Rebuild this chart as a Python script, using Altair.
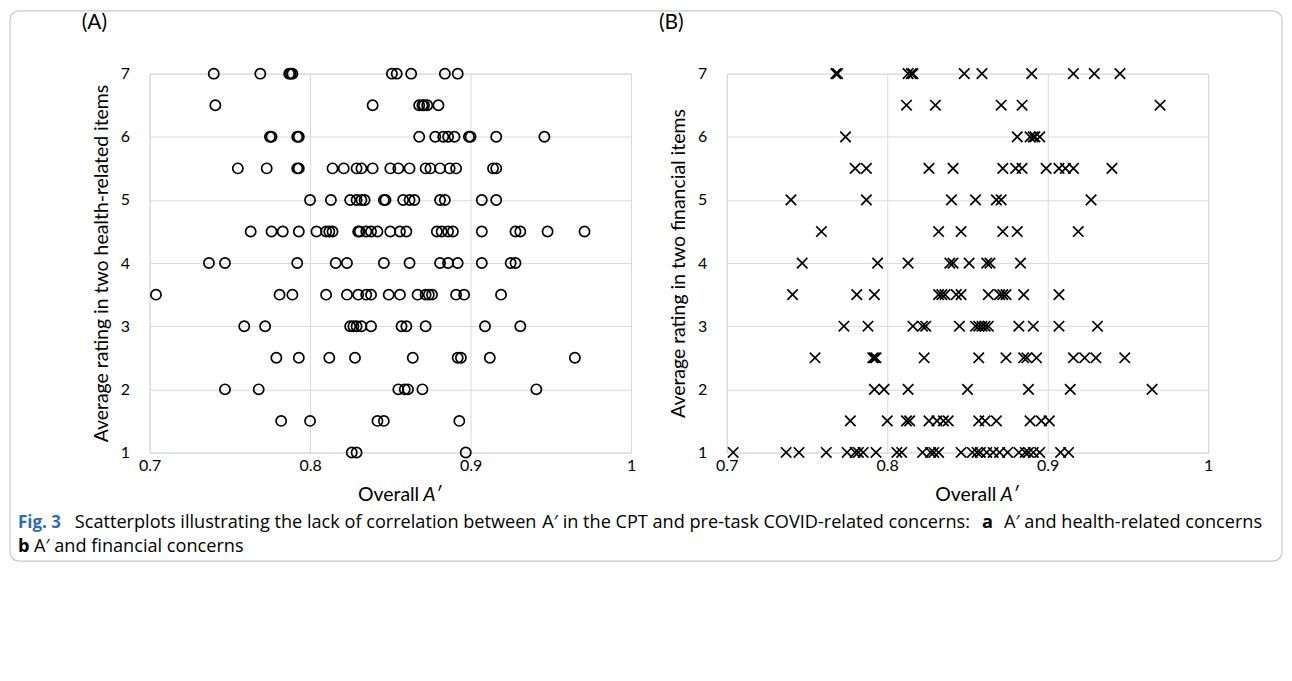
import altair as alt
import pandas as pd

# ---------------- data: panel A (health-related), x values per rating row ----------------
A_7 = [0.740, 0.769, 0.787, 0.788, 0.789, 0.851, 0.854, 0.863, 0.884, 0.892]
A_65 = [0.741, 0.839, 0.868, 0.870, 0.871, 0.873, 0.880]
A_6 = [0.775, 0.776, 0.792, 0.793, 0.868, 0.878, 0.883, 0.886, 0.890, 0.899, 0.900, 0.916, 0.946]
A_55 = [0.755, 0.773, 0.792, 0.793, 0.814, 0.821, 0.829, 0.832, 0.839, 0.850, 0.855, 0.862,
        0.872, 0.875, 0.881, 0.887, 0.891, 0.914, 0.916]
A_5 = [0.800, 0.813, 0.825, 0.829, 0.832, 0.834, 0.846, 0.847, 0.858, 0.862, 0.865, 0.881,
       0.884, 0.907, 0.916]
A_45 = [0.763, 0.776, 0.783, 0.793, 0.804, 0.810, 0.812, 0.814, 0.830, 0.831, 0.835, 0.838,
        0.842, 0.850, 0.856, 0.860, 0.879, 0.882, 0.886, 0.889, 0.907, 0.928, 0.931, 0.948, 0.971]
A_4 = [0.737, 0.747, 0.792, 0.816, 0.823, 0.846, 0.862, 0.881, 0.886, 0.892, 0.907, 0.925, 0.928]
A_35 = [0.704, 0.781, 0.789, 0.810, 0.823, 0.830, 0.835, 0.838, 0.849, 0.856, 0.867, 0.872,
        0.874, 0.876, 0.891, 0.896, 0.919]
A_3 = [0.759, 0.772, 0.825, 0.827, 0.829, 0.832, 0.838, 0.857, 0.860, 0.872, 0.909, 0.931]
A_25 = [0.779, 0.793, 0.812, 0.828, 0.864, 0.892, 0.894, 0.912, 0.965]
A_2 = [0.747, 0.768, 0.855, 0.859, 0.861, 0.870, 0.941]
A_15 = [0.782, 0.800, 0.842, 0.846, 0.893]
A_1 = [0.826, 0.829, 0.897]

# ---------------- data: panel B (financial) ----------------
B_7 = [0.768, 0.769, 0.813, 0.815, 0.816, 0.848, 0.859, 0.890, 0.916, 0.929, 0.945]
B_65 = [0.812, 0.830, 0.871, 0.884, 0.970]
B_6 = [0.774, 0.881, 0.889, 0.891, 0.892, 0.895]
B_55 = [0.780, 0.787, 0.826, 0.841, 0.872, 0.880, 0.884, 0.899, 0.907, 0.911, 0.916, 0.940]
B_5 = [0.740, 0.787, 0.840, 0.855, 0.868, 0.871, 0.927]
B_45 = [0.759, 0.832, 0.846, 0.872, 0.881, 0.919]
B_4 = [0.747, 0.794, 0.813, 0.839, 0.841, 0.851, 0.862, 0.864, 0.883]
B_35 = [0.741, 0.781, 0.792, 0.832, 0.834, 0.836, 0.843, 0.846, 0.863, 0.870, 0.872, 0.874,
        0.885, 0.907]
B_3 = [0.773, 0.788, 0.816, 0.822, 0.824, 0.845, 0.855, 0.857, 0.859, 0.861, 0.863, 0.882,
       0.891, 0.907, 0.931]
B_25 = [0.755, 0.791, 0.792, 0.793, 0.823, 0.857, 0.874, 0.885, 0.887, 0.893, 0.916, 0.923,
        0.930, 0.948]
B_2 = [0.792, 0.798, 0.813, 0.850, 0.888, 0.914, 0.965]
B_15 = [0.777, 0.800, 0.812, 0.814, 0.826, 0.831, 0.835, 0.838, 0.857, 0.861, 0.868, 0.889,
        0.896, 0.901]
B_1 = [0.704, 0.737, 0.745, 0.762, 0.775, 0.780, 0.782, 0.785, 0.793, 0.806, 0.809, 0.822,
       0.827, 0.829, 0.832, 0.846, 0.853, 0.856, 0.858, 0.862, 0.866, 0.870, 0.875, 0.882,
       0.886, 0.888, 0.891, 0.895, 0.908, 0.913]

RATINGS = [7, 6.5, 6, 5.5, 5, 4.5, 4, 3.5, 3, 2.5, 2, 1.5, 1]
A_ROWS = [A_7, A_65, A_6, A_55, A_5, A_45, A_4, A_35, A_3, A_25, A_2, A_15, A_1]
B_ROWS = [B_7, B_65, B_6, B_55, B_5, B_45, B_4, B_35, B_3, B_25, B_2, B_15, B_1]

X_TICKS = [0.7, 0.8, 0.9, 1.0]
Y_TICKS = [1, 2, 3, 4, 5, 6, 7]
PANEL_LABELS = ["(A)", "(B)"]
Y_TITLES = ["Average rating in two health-related items", "Average rating in two financial items"]
X_TITLE_WORD = "Overall"
X_TITLE_SYMBOL = "A\u2032"
CAPTION_FIG = "Fig. 3"
CAPTION_1A = "Scatterplots illustrating the lack of correlation between"
CAPTION_1B = "A\u2032 in the CPT and pre-task COVID-related concerns:"
CAPTION_A = "a"
CAPTION_1C = "A\u2032 and health-related concerns"
CAPTION_B = "b"
CAPTION_2 = "A\u2032 and financial concerns"

FONT = "Lato"
CAP_FONT = "Open Sans"
CAP_SIZE = 18.2
W, H = 483, 380
GRID = "#d9d9d9"
XPATH = "M-1,-1L1,1M-1,1L1,-1"


def make_df(rows):
    recs = []
    for r, xs in zip(RATINGS, rows):
        for v in xs:
            recs.append({"x": v, "y": r})
    return pd.DataFrame(recs)


def text_layer(txt, x, y, **kw):
    return alt.Chart(pd.DataFrame({"t": [txt]})).mark_text(**kw).encode(
        x=alt.value(x), y=alt.value(y), text="t:N")


def panel(rows, shape, size, ytitle, label, extras=()):
    df = make_df(rows)
    pts = alt.Chart(df).mark_point(
        shape=shape, filled=False, stroke="black", strokeWidth=1.7, size=size, opacity=1
    ).encode(
        x=alt.X("x:Q", scale=alt.Scale(domain=[0.7, 1.0], nice=False, zero=False),
                axis=alt.Axis(values=X_TICKS, format="~g", title=None, ticks=False,
                              domain=False, gridColor=GRID, labelFontSize=16,
                              labelPadding=5, labelColor="black", labelFont=FONT,
                              labelFlush=False)),
        y=alt.Y("y:Q", scale=alt.Scale(domain=[1, 7], nice=False, zero=False),
                axis=alt.Axis(values=Y_TICKS, format="~g", title=ytitle, ticks=False,
                              domain=False, gridColor=GRID, labelFontSize=16,
                              labelPadding=20, labelColor="black", labelFont=FONT,
                              titleFontSize=19.5, titleFont=FONT, titleFontWeight="normal",
                              titleColor="black", titlePadding=9)),
    )
    t1 = text_layer(X_TITLE_WORD, W / 2 + 29, H + 43, font=FONT, fontSize=19.5,
                    align="right", baseline="middle", color="black")
    t2 = text_layer(X_TITLE_SYMBOL, W / 2 + 33, H + 43, font=FONT, fontSize=19.5,
                    align="left", baseline="middle", color="black", fontStyle="italic")
    lab = text_layer(label, -68, -51, font=FONT, fontSize=21, align="left",
                     baseline="middle", color="black")
    return alt.layer(*extras, pts, t1, t2, lab).properties(width=W, height=H)


# frame around the figure and caption, placed relative to panel A's plot origin (page 148, 71)
frame = alt.Chart(pd.DataFrame({"k": [0]})).mark_rect(
    fill="white", fillOpacity=0, stroke="#c8c8c8", strokeWidth=1.2, cornerRadius=9
).encode(x=alt.value(-140), x2=alt.value(1136), y=alt.value(-63), y2=alt.value(489))

cap_y1, cap_y2 = H + 71, H + 95
CAP_KW = dict(font=CAP_FONT, fontSize=CAP_SIZE, color="black", baseline="middle")
k = CAP_SIZE / 17.0
x1 = -75
x2 = x1 + 432 * k + 6.5
x3 = x2 + 399 * k + 14
caption = [
    text_layer(CAPTION_FIG, -132, cap_y1, font=CAP_FONT, fontSize=17, fontWeight="bold",
               color="#2f6db3", align="left", baseline="middle"),
    text_layer(CAPTION_1A, x1, cap_y1, align="left", **CAP_KW),
    text_layer(CAPTION_1B, x2, cap_y1, align="left", **CAP_KW),
    text_layer(CAPTION_A, x3, cap_y1, align="left", fontWeight="bold", **CAP_KW),
    text_layer(CAPTION_1C, 1116, cap_y1, align="right", **CAP_KW),
    text_layer(CAPTION_B, -132, cap_y2, align="left", fontWeight="bold", **CAP_KW),
    text_layer(CAPTION_2, -116, cap_y2, align="left", **CAP_KW),
]

pa = panel(A_ROWS, "circle", 105, Y_TITLES[0], PANEL_LABELS[0], extras=[frame] + caption)
pb = panel(B_ROWS, XPATH, 110, Y_TITLES[1], PANEL_LABELS[1])

chart = alt.hconcat(pa, pb, spacing=96, bounds="flush").properties(
    padding={"left": 0, "top": 0, "right": 0, "bottom": 0}
).configure_view(stroke=GRID, strokeWidth=1.2).configure(background="white")

chart.save("out.html", embed_options={"renderer": "svg", "actions": False})
